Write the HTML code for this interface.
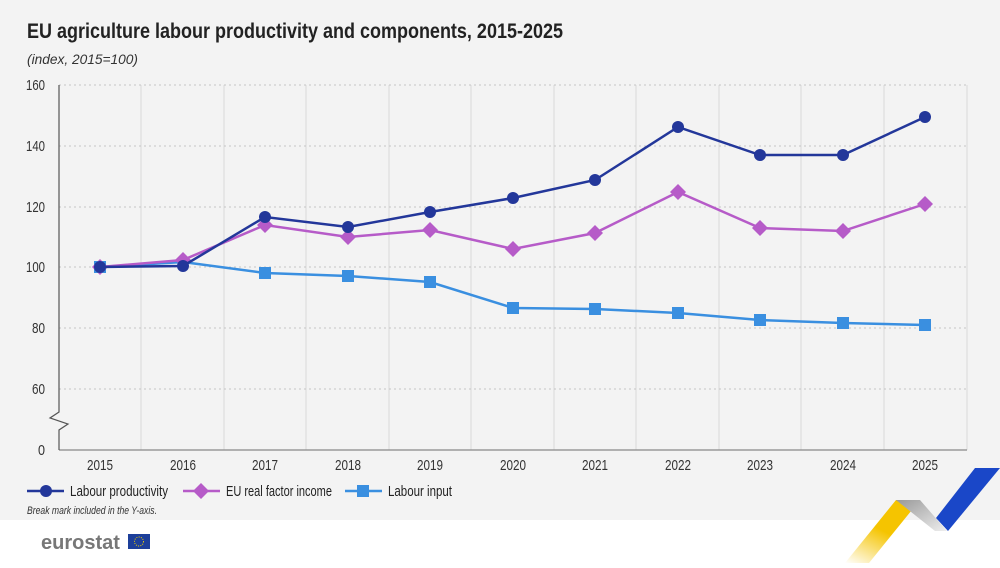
<!DOCTYPE html>
<html><head><meta charset="utf-8"><style>
body{margin:0;width:1000px;height:563px;overflow:hidden;background:#fff;font-family:"Liberation Sans",sans-serif}
</style></head><body>
<svg width="1000" height="563" xmlns="http://www.w3.org/2000/svg" font-family="Liberation Sans, sans-serif">
<rect x="0" y="0" width="1000" height="520" fill="#f3f3f3"/>
<text x="27" y="38" font-size="21" font-weight="bold" fill="#222" textLength="536" lengthAdjust="spacingAndGlyphs">EU agriculture labour productivity and components, 2015-2025</text>
<text x="27" y="64" font-size="14" font-style="italic" fill="#333" textLength="111" lengthAdjust="spacingAndGlyphs">(index, 2015=100)</text>
<g stroke="#d8d8d8" stroke-width="1">
<line x1="141" y1="85" x2="141" y2="450"/><line x1="224" y1="85" x2="224" y2="450"/><line x1="306" y1="85" x2="306" y2="450"/><line x1="389" y1="85" x2="389" y2="450"/><line x1="471" y1="85" x2="471" y2="450"/><line x1="554" y1="85" x2="554" y2="450"/><line x1="636" y1="85" x2="636" y2="450"/><line x1="719" y1="85" x2="719" y2="450"/><line x1="801" y1="85" x2="801" y2="450"/><line x1="884" y1="85" x2="884" y2="450"/><line x1="967" y1="85" x2="967" y2="450"/>
</g>
<g stroke="#c4c4c4" stroke-width="1" stroke-dasharray="2,3">
<line x1="59" y1="85" x2="967" y2="85"/><line x1="59" y1="146" x2="967" y2="146"/><line x1="59" y1="207" x2="967" y2="207"/><line x1="59" y1="267" x2="967" y2="267"/><line x1="59" y1="328" x2="967" y2="328"/><line x1="59" y1="389" x2="967" y2="389"/>
</g>
<line x1="59" y1="450" x2="967" y2="450" stroke="#999" stroke-width="1.5"/>
<polyline points="59,85 59,412 50,418 68,424 59,430 59,450" fill="none" stroke="#555" stroke-width="1.2"/>
<g font-size="15" fill="#333" text-anchor="end">
<text x="45" y="90" textLength="19" lengthAdjust="spacingAndGlyphs">160</text><text x="45" y="151" textLength="19" lengthAdjust="spacingAndGlyphs">140</text><text x="45" y="212" textLength="19" lengthAdjust="spacingAndGlyphs">120</text><text x="45" y="272" textLength="19" lengthAdjust="spacingAndGlyphs">100</text><text x="45" y="333" textLength="13" lengthAdjust="spacingAndGlyphs">80</text><text x="45" y="394" textLength="13" lengthAdjust="spacingAndGlyphs">60</text><text x="45" y="455" textLength="7" lengthAdjust="spacingAndGlyphs">0</text>
</g>
<g font-size="15" fill="#333" text-anchor="middle">
<text x="100" y="470" textLength="26" lengthAdjust="spacingAndGlyphs">2015</text><text x="183" y="470" textLength="26" lengthAdjust="spacingAndGlyphs">2016</text><text x="265" y="470" textLength="26" lengthAdjust="spacingAndGlyphs">2017</text><text x="348" y="470" textLength="26" lengthAdjust="spacingAndGlyphs">2018</text><text x="430" y="470" textLength="26" lengthAdjust="spacingAndGlyphs">2019</text><text x="513" y="470" textLength="26" lengthAdjust="spacingAndGlyphs">2020</text><text x="595" y="470" textLength="26" lengthAdjust="spacingAndGlyphs">2021</text><text x="678" y="470" textLength="26" lengthAdjust="spacingAndGlyphs">2022</text><text x="760" y="470" textLength="26" lengthAdjust="spacingAndGlyphs">2023</text><text x="843" y="470" textLength="26" lengthAdjust="spacingAndGlyphs">2024</text><text x="925" y="470" textLength="26" lengthAdjust="spacingAndGlyphs">2025</text>
</g>
<polyline fill="none" stroke="#3a8fe0" stroke-width="2.5" points="100,267 183,262 265,273 348,276 430,282 513,308 595,309 678,313 760,320 843,323 925,325"/>
<g fill="#3a8fe0"><rect x="94" y="261" width="12" height="12"/><rect x="259" y="267" width="12" height="12"/><rect x="342" y="270" width="12" height="12"/><rect x="424" y="276" width="12" height="12"/><rect x="507" y="302" width="12" height="12"/><rect x="589" y="303" width="12" height="12"/><rect x="672" y="307" width="12" height="12"/><rect x="754" y="314" width="12" height="12"/><rect x="837" y="317" width="12" height="12"/><rect x="919" y="319" width="12" height="12"/></g>
<polyline fill="none" stroke="#b65bc8" stroke-width="2.5" points="100,267 183,260 265,225 348,237 430,230 513,249 595,233 678,192 760,228 843,231 925,204"/>
<g fill="#b65bc8">
<path d="M100,259l8,8l-8,8l-8-8z"/><path d="M183,252l8,8l-8,8l-8-8z"/><path d="M265,217l8,8l-8,8l-8-8z"/><path d="M348,229l8,8l-8,8l-8-8z"/><path d="M430,222l8,8l-8,8l-8-8z"/><path d="M513,241l8,8l-8,8l-8-8z"/><path d="M595,225l8,8l-8,8l-8-8z"/><path d="M678,184l8,8l-8,8l-8-8z"/><path d="M760,220l8,8l-8,8l-8-8z"/><path d="M843,223l8,8l-8,8l-8-8z"/><path d="M925,196l8,8l-8,8l-8-8z"/>
</g>
<polyline fill="none" stroke="#23379a" stroke-width="2.5" points="100,267 183,266 265,217 348,227 430,212 513,198 595,180 678,127 760,155 843,155 925,117"/>
<g fill="#23379a"><circle cx="100" cy="267" r="6"/><circle cx="183" cy="266" r="6"/><circle cx="265" cy="217" r="6"/><circle cx="348" cy="227" r="6"/><circle cx="430" cy="212" r="6"/><circle cx="513" cy="198" r="6"/><circle cx="595" cy="180" r="6"/><circle cx="678" cy="127" r="6"/><circle cx="760" cy="155" r="6"/><circle cx="843" cy="155" r="6"/><circle cx="925" cy="117" r="6"/></g>
<g font-size="15" fill="#222">
<line x1="27" y1="491" x2="64" y2="491" stroke="#23379a" stroke-width="2.5"/><circle cx="46" cy="491" r="6" fill="#23379a"/><text x="70" y="496" textLength="98" lengthAdjust="spacingAndGlyphs">Labour productivity</text>
<line x1="183" y1="491" x2="220" y2="491" stroke="#b65bc8" stroke-width="2.5"/><path d="M201,483l8,8l-8,8l-8-8z" fill="#b65bc8"/><text x="226" y="496" textLength="106" lengthAdjust="spacingAndGlyphs">EU real factor income</text>
<line x1="345" y1="491" x2="382" y2="491" stroke="#3a8fe0" stroke-width="2.5"/><rect x="357" y="485" width="12" height="12" fill="#3a8fe0"/><text x="388" y="496" textLength="64" lengthAdjust="spacingAndGlyphs">Labour input</text>
</g>
<text x="27" y="514" font-size="11" font-style="italic" fill="#333" textLength="130" lengthAdjust="spacingAndGlyphs">Break mark included in the Y-axis.</text>
<text x="41" y="549" font-size="20" font-weight="bold" fill="#777">eurostat</text>
<rect x="128" y="534" width="22" height="15" fill="#1d3f9a"/>
<circle cx="139" cy="541.5" r="4.5" fill="none" stroke="#f5d000" stroke-width="1" stroke-dasharray="1,1.3"/>
<defs><linearGradient id="yg" x1="0" y1="1" x2="0.6" y2="0"><stop offset="0" stop-color="#fff"/><stop offset="0.6" stop-color="#f5c400"/></linearGradient>
<linearGradient id="gg" x1="0" y1="0" x2="1" y2="1"><stop offset="0" stop-color="#999"/><stop offset="1" stop-color="#eee"/></linearGradient></defs>
<polygon points="896,500 920,500 869,563 845,563" fill="url(#yg)"/>
<polygon points="920,500 947,531 935,531 896,500" fill="url(#gg)"/>
<polygon points="975,468 1000,468 948,531 936,518" fill="#1a47c8"/>
</svg>
</body></html>
